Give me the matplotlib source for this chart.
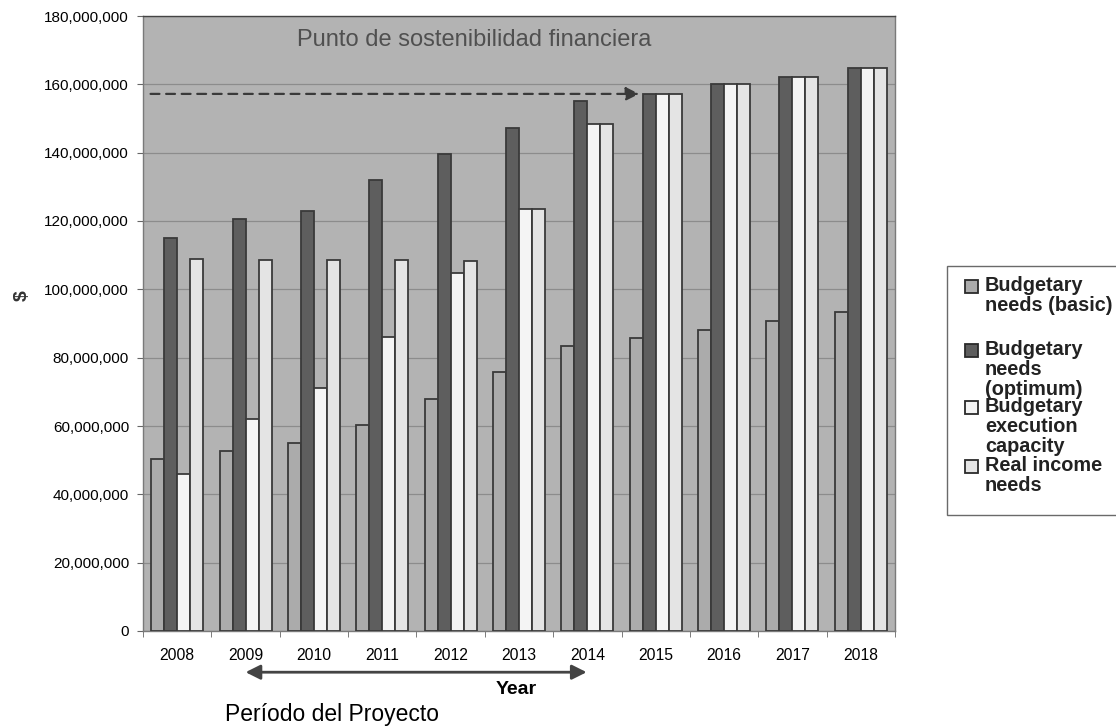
import matplotlib
matplotlib.use("Agg")
import matplotlib.pyplot as plt
from matplotlib.patches import Rectangle
from matplotlib.ticker import FuncFormatter, FixedLocator
import numpy as np

plt.rcParams["font.family"] = ["Liberation Sans", "DejaVu Sans"]

years = ["2008", "2009", "2010", "2011", "2012", "2013", "2014",
         "2015", "2016", "2017", "2018"]

needs_basic = [50.3e6, 52.7e6, 55.0e6, 60.2e6, 67.9e6, 75.8e6, 83.5e6,
               85.8e6, 88.1e6, 90.7e6, 93.3e6]
needs_optimum = [115.1e6, 120.6e6, 123.0e6, 132.0e6, 139.6e6, 147.3e6, 155.2e6,
                 157.2e6, 160.0e6, 162.2e6, 164.8e6]
execution_capacity = [46.0e6, 62.0e6, 71.1e6, 86.1e6, 104.8e6, 123.5e6, 148.5e6,
                      157.2e6, 160.0e6, 162.2e6, 164.8e6]
real_income_needs = [108.9e6, 108.7e6, 108.7e6, 108.7e6, 108.4e6, 123.5e6, 148.5e6,
                     157.2e6, 160.0e6, 162.2e6, 164.8e6]

series_labels = ["Budgetary\nneeds (basic)", "Budgetary\nneeds\n(optimum)",
                 "Budgetary\nexecution\ncapacity", "Real income\nneeds"]
series_values = [needs_basic, needs_optimum, execution_capacity, real_income_needs]
series_colors = ["#ababab", "#5e5e5e", "#f4f4f4", "#e4e4e4"]

W, H = 1116, 727
fig = plt.figure(figsize=(W / 100, H / 100), dpi=100)


def fx(px):
    return px / W


def fy(py):
    return 1 - py / H


ax = fig.add_axes([fx(143), fy(631), fx(895) - fx(143), fy(16) - fy(631)])
ax.set_facecolor("#b3b3b3")

x = np.arange(len(years))
w = 0.19
for i, (vals, col) in enumerate(zip(series_values, series_colors)):
    ax.bar(x + (i - 1.5) * w, vals, width=w, color=col, edgecolor="#3a3a3a",
           linewidth=1.3, zorder=3)

ax.set_xlim(-0.5, len(years) - 0.5)
ax.set_ylim(0, 180e6)
ax.set_yticks(np.arange(0, 180e6 + 1, 20e6))
ax.yaxis.set_major_formatter(FuncFormatter(lambda v, p: f"{int(v):,}"))
ax.grid(axis="y", color="#8c8c8c", linewidth=0.9, zorder=1)
ax.tick_params(axis="y", labelsize=11, length=4, color="#666666", pad=6)

ax.set_xticks(x)
ax.set_xticklabels(years)
ax.tick_params(axis="x", length=0, labelsize=11.3, pad=12)
ax.xaxis.set_minor_locator(FixedLocator(np.arange(-0.5, len(years), 1)))
ax.tick_params(axis="x", which="minor", length=4, color="#666666")

for s in ax.spines.values():
    s.set_color("#7a7a7a")
    s.set_linewidth(1.0)
ax.spines["top"].set_color("#444444")

fig.text(fx(22), fy(296), "$", rotation=90, ha="center", va="center",
         fontsize=14, fontweight="bold", color="#333333")

# sustainability point: dashed arrow toward the 2015 optimum level
ax.annotate("", xy=(7 - w - 0.01, needs_optimum[7]), xytext=(-0.43, needs_optimum[7]),
            arrowprops=dict(arrowstyle="-|>", linestyle=(0, (4, 3)), color="#3a3a3a",
                            lw=1.6, mutation_scale=20), zorder=5)
ax.text(0.44, 0.961, "Punto de sostenibilidad financiera", transform=ax.transAxes,
        ha="center", va="center", fontsize=17, color="#505050", zorder=6)

# project period arrow under the axis
trans = ax.get_xaxis_transform()
ax.annotate("", xy=(0.96, -0.067), xytext=(6.03, -0.067), xycoords=trans, textcoords=trans,
            arrowprops=dict(arrowstyle="<|-|>", color="#444444", lw=2.0, mutation_scale=22),
            annotation_clip=False)
fig.text(fx(516), fy(689), "Year", ha="center", va="center",
         fontsize=14, fontweight="bold")
fig.text(fx(332), fy(714), "Período del Proyecto", ha="center", va="center",
         fontsize=16.5)

# legend box at the right, clipped by the figure edge
fig.add_artist(Rectangle((fx(947), fy(515)), fx(1130) - fx(947), fy(266) - fy(515),
                         transform=fig.transFigure, facecolor="white",
                         edgecolor="#6a6a6a", linewidth=1.0))
first_line_y = [286, 350, 407, 466]
for lab, col, ly in zip(series_labels, series_colors, first_line_y):
    fig.add_artist(Rectangle((fx(965), fy(ly + 6.5)), fx(13), fy(0) - fy(13),
                             transform=fig.transFigure, facecolor=col,
                             edgecolor="#2a2a2a", linewidth=1.3))
    fig.text(fx(985), fy(ly - 10), lab, ha="left", va="top", fontsize=14.3,
             fontweight="bold", color="#222222", linespacing=1.07)

fig.savefig("out.png", dpi=100, facecolor="white")
